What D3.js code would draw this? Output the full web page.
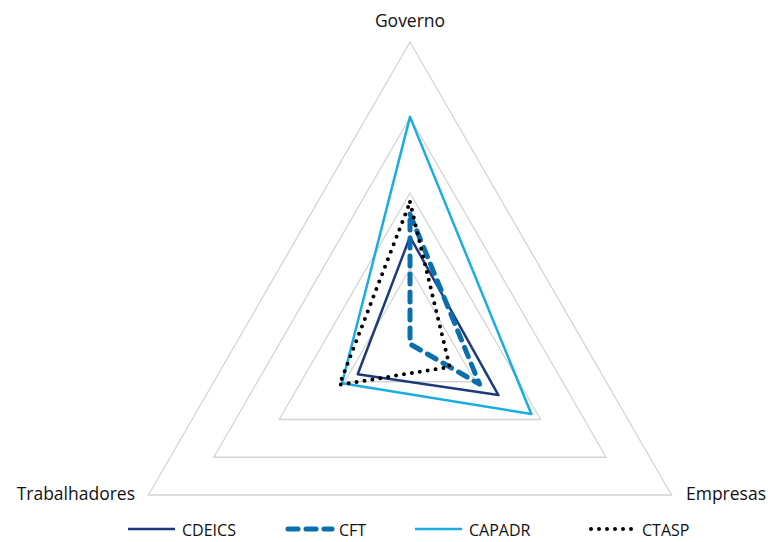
<!DOCTYPE html>
<html>
<head>
<meta charset="utf-8">
<script src="https://cdnjs.cloudflare.com/ajax/libs/d3/7.8.5/d3.min.js"></script>
<style>
  body { margin: 0; background: #fff; }
  text { font-family: "Open Sans", sans-serif; fill: #111; }
</style>
</head>
<body>
<script>
// Radar chart, 3 axes
var width = 768, height = 542;
var cx = 410, cy = 344, radius = 302;

var axes = ["Governo", "Empresas", "Trabalhadores"];
var levels = [0.25, 0.5, 0.75, 1];
var series = ["CDEICS", "CFT", "CAPADR", "CTASP"];
var cdeics = [0.355, 0.338, 0.20];
var cft = [0.43, 0.266, 0.0];
var capadr = [0.752, 0.464, 0.26];
var ctasp = [0.47, 0.152, 0.27];
var values = [cdeics, cft, capadr, ctasp];

var colors = ["#1f3a78", "#0b6fad", "#19ade1", "#000000"];
var dashes = [null, "10,8", null, "0,8"];
var widths = [2.5, 5, 2.5, 4];
var caps = ["butt", "round", "butt", "round"];

var r = d3.scaleLinear().domain([0, 1]).range([0, radius]);
var angle = d3.scaleOrdinal().domain(axes).range([0, 2 * Math.PI / 3, 4 * Math.PI / 3]);

function pt(name, v) {
  var a = angle(name);
  return [cx + r(v) * Math.sin(a), cy - r(v) * Math.cos(a)];
}

var svg = d3.select("body").append("svg")
            .attr("width", width)
            .attr("height", height);

var line = d3.line().curve(d3.curveLinearClosed);

// grid
svg.append("g").selectAll("path")
   .data(levels)
   .enter()
   .append("path")
   .attr("d", l => line(axes.map(a => pt(a, l))))
   .attr("fill", "none")
   .attr("stroke", "#d4d4d4")
   .attr("stroke-width", 1.3);

// axis labels
var labelPos = [
  {x: 410, y: 27, anchor: "middle"},
  {x: 766, y: 500, anchor: "end"},
  {x: 135, y: 500, anchor: "end"}
];
svg.append("g").selectAll("text")
   .data(axes)
   .enter()
   .append("text")
   .attr("x", (d, i) => labelPos[i].x)
   .attr("y", (d, i) => labelPos[i].y)
   .attr("text-anchor", (d, i) => labelPos[i].anchor)
   .style("font-size", "17.5px")
   .text(d => d);

// series
svg.append("g").selectAll("path")
   .data(series)
   .enter()
   .append("path")
   .attr("d", (d, i) => line(axes.map((a, j) => pt(a, values[i][j]))))
   .attr("fill", "none")
   .attr("stroke", (d, i) => colors[i])
   .attr("stroke-width", (d, i) => widths[i])
   .attr("stroke-dasharray", (d, i) => dashes[i])
   .attr("stroke-linecap", (d, i) => caps[i])
   .attr("stroke-linejoin", "round");

// legend
var legX = [128, 285, 415, 588];
var leg = svg.append("g").selectAll("g")
   .data(series)
   .enter()
   .append("g")
   .attr("transform", (d, i) => "translate(" + legX[i] + ",529)");

leg.append("line")
   .attr("x1", (d, i) => caps[i] == "round" ? 3 : 0)
   .attr("x2", 47)
   .attr("stroke", (d, i) => colors[i])
   .attr("stroke-width", (d, i) => widths[i])
   .attr("stroke-dasharray", (d, i) => dashes[i])
   .attr("stroke-linecap", (d, i) => caps[i]);

leg.append("text")
   .attr("x", 54)
   .attr("y", 1)
   .attr("dominant-baseline", "central")
   .style("font-size", "16px")
   .text(d => d);
</script>
</body>
</html>
